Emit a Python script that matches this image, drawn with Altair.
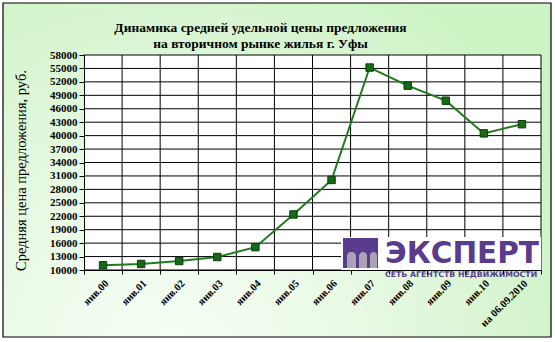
import altair as alt
import pandas as pd

# ---- data ----
categories = ["янв.00", "янв.01", "янв.02", "янв.03", "янв.04", "янв.05",
              "янв.06", "янв.07", "янв.08", "янв.09", "янв.10", "на 06.09.2010"]
prices = [11050, 11350, 12000, 12900, 15100, 22400,
          30100, 55200, 51150, 47800, 40500, 42550]
y_ticks = [10000, 13000, 16000, 19000, 22000, 25000, 28000, 31000, 34000,
           37000, 40000, 43000, 46000, 49000, 52000, 55000, 58000]
title_lines = ["Динамика средней удельной цены предложения",
               "на вторичном рынке жилья г. Уфы"]
y_title = "Средняя цена предложения, руб."
logo_main = "ЭКСПЕРТ"
logo_sub = "СЕТЬ АГЕНТСТВ НЕДВИЖИМОСТИ"

df = pd.DataFrame({"cat": categories, "price": prices})
grid_df = pd.DataFrame({"v": y_ticks})
cat_df = pd.DataFrame({"cat": categories})
one = pd.DataFrame({"k": [0]})

W, H = 457, 215
SERIF = "Liberation Serif"
PURPLE = "#5a3c8e"

xscale = alt.Scale(paddingInner=0, paddingOuter=0)
xaxis = alt.Axis(title=None, labelAngle=-45, labelFont=SERIF, labelFontSize=10.5,
                 labelFontWeight="bold", labelColor="black", labelOverlap=False,
                 tickBand="extent", tickSize=4, tickColor="black", domainColor="black",
                 labelPadding=4, grid=False, zindex=1)
yscale = alt.Scale(domain=[10000, 58000], nice=False, zero=False)
yaxis = alt.Axis(title=y_title, titleFont=SERIF, titleFontSize=14.5, titleFontWeight="normal",
                 titleColor="black", titlePadding=21, titleY=115, values=y_ticks, format="d",
                 labelFont=SERIF, labelFontSize=11, labelFontWeight="bold",
                 labelColor="black", labelPadding=2, tickSize=5, tickColor="black",
                 domainColor="black", grid=False, zindex=1)


def X(field="cat", **kw):
    return alt.X(f"{field}:N", sort=categories, scale=xscale, axis=xaxis, **kw)


def Y(field):
    return alt.Y(f"{field}:Q", scale=yscale, axis=yaxis)


grad = alt.RadialGradient(
    gradient="radial", x1=0.3, y1=0.85, r1=0.0, x2=0.3, y2=0.85, r2=0.8,
    stops=[alt.GradientStop(color="#f8fff7", offset=0),
           alt.GradientStop(color="#e8f9e4", offset=0.45),
           alt.GradientStop(color="#cdf3c5", offset=1)])

bg = alt.Chart(one).mark_rect(fill=grad, stroke="black", strokeWidth=1.2).encode(
    x=alt.value(-81), x2=alt.value(467), y=alt.value(-52), y2=alt.value(282))
plot_bg = alt.Chart(one).mark_rect(fill="white").encode(
    x=alt.value(0), x2=alt.value(W), y=alt.value(0), y2=alt.value(H))

hgrid = alt.Chart(grid_df).mark_rule(color="black", strokeWidth=1).encode(y=Y("v"))
vgrid = alt.Chart(cat_df).mark_rule(color="black", strokeWidth=1).encode(
    x=X("cat", bandPosition=1))

logo_box = alt.Chart(one).mark_rect(fill="white").encode(
    x=alt.value(257), x2=alt.value(W), y=alt.value(182), y2=alt.value(H))
logo_icon = alt.Chart(one).mark_rect(fill=PURPLE).encode(
    x=alt.value(259), x2=alt.value(294), y=alt.value(183), y2=alt.value(213))
arches = alt.layer(*[
    alt.Chart(one).mark_rect(fill="#a9a3b5", cornerRadiusTopLeft=4,
                             cornerRadiusTopRight=4).encode(
        x=alt.value(a), x2=alt.value(b), y=alt.value(197), y2=alt.value(213))
    for a, b in [(263, 272), (275, 283), (286, 293)]])
logo_text = alt.Chart(one).mark_text(
    text=logo_main, font="DejaVu Sans", fontWeight="bold", fontSize=29.5,
    color=PURPLE, align="left", baseline="alphabetic").encode(
    x=alt.value(301), y=alt.value(208))
logo_subtext = alt.Chart(one).mark_text(
    text=logo_sub, font="DejaVu Sans", fontWeight="bold", fontSize=7.8,
    color=PURPLE, align="left", baseline="alphabetic").encode(
    x=alt.value(301), y=alt.value(222))

line = alt.Chart(df).mark_line(color="#1f7a1f", strokeWidth=2).encode(x=X(), y=Y("price"))
pts = alt.Chart(df).mark_square(size=55, color="#176b17", stroke="#0b3d0b",
                                strokeWidth=1, filled=True, opacity=1).encode(
    x=X(), y=Y("price"))

chart = alt.layer(bg, plot_bg, hgrid, vgrid, logo_box, logo_icon, arches,
                  logo_text, logo_subtext, line, pts).properties(
    width=W, height=H,
    title=alt.TitleParams(title_lines, font=SERIF, fontSize=13.5, fontWeight="bold",
                          color="black", anchor="middle", dx=-52, offset=-48,
                          lineHeight=16, zindex=1),
    autosize=alt.AutoSizeParams(type="none"),
    padding={"left": 84, "top": 55, "right": 14, "bottom": 72},
    background="white",
).configure_view(stroke=None)

chart.save("out.html", embed_options={"renderer": "svg", "actions": False})
